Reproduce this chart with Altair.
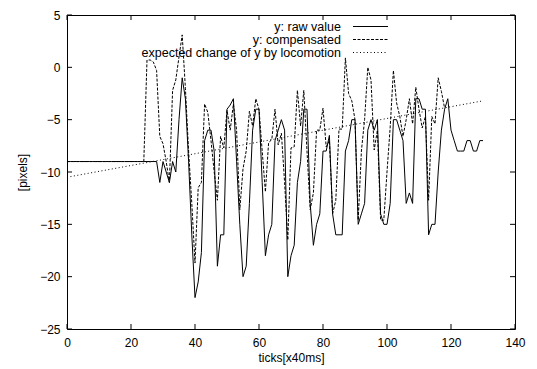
import altair as alt
import pandas as pd

# ---- data ----
ticks_raw = list(range(0, 131))
raw_value = [
    -9, -9, -9, -9, -9, -9, -9, -9, -9, -9,
    -9, -9, -9, -9, -9, -9, -9, -9, -9, -9,
    -9, -9, -9, -9, -9, -9, -9, -9, -9, -11,
    -9, -10, -11, -9, -10, -5, -1, -3, -9, -16,
    -22, -20.5, -17.7, -7, -6, -6, -8, -19, -16, -16,
    -4, -3.6, -3, -9, -15, -20, -19, -13, -6, -4,
    -4, -11, -18, -16, -15, -7, -6, -5, -6, -20,
    -18, -17, -11, -9, -4, -4, -13, -17, -15, -14,
    -8, -8, -6.5, -14, -16, -16, -16, -8, -7, -5,
    -5, -15, -14, -13, -6, -5, -6, -5, -14, -15,
    -15, -13, -5, -5, -6, -7, -13, -12, -13, -3,
    -3, -4, -4, -16, -15, -15, -10, -6, -4, -3,
    -6, -7, -8, -8, -8, -7, -7, -8, -8, -7,
    -7,
]

ticks_comp = list(range(0, 119))
compensated = [
    -9, -9, -9, -9, -9, -9, -9, -9, -9, -9,
    -9, -9, -9, -9, -9, -9, -9, -9, -9, -9,
    -9, -9, -9, -9, -9, 0.7, 0.7, 0.5, -0.3, -6.6,
    -7.3, -9, -11, -2.2, -1.2, 1, 3.1, -2, -8, -13,
    -18.7, -11.5, -11, -3.5, -4.3, -7, -10, -12.7, -6.6, -7.7,
    -4.1, -6, -3.5, -6, -13.6, -9.7, -8, -4.2, -5.6, -3,
    -4, -8, -11.9, -7.2, -6.9, -4, -7.4, -6.3, -11, -16.5,
    -7.7, -7.6, -2.2, -5.6, -2.2, -8, -13.6, -12, -6, -6,
    -3.9, -7.6, -7, -14, -12.7, -5.9, -5.9, 0.9, -2.5, -3.2,
    -5, -14.6, -8, -5, 0, -1.2, -7.9, -6, -14.6, -14.6,
    -10, -5.7, -0.3, -3.4, -4.7, -6.6, -5, -3, -5.4, -1.9,
    -4, -5.8, -4.7, -12.7, -4.7, -5.4, -1, -2.3, -3.9,
]

ticks_expected = [0, 130]
expected = [-10.5, -3.2]

x_tick_values = [0, 20, 40, 60, 80, 100, 120, 140]
y_tick_values = [5, 0, -5, -10, -15, -20, -25]
legend_labels = ["y: raw value", "y: compensated", "expected change of y by locomotion"]

# ---- layout ----
W, H = 448, 314
FONT = "Liberation Sans"

raw_df = pd.DataFrame({"t": ticks_raw, "v": raw_value})
comp_df = pd.DataFrame({"t": ticks_comp, "v": compensated})
exp_df = pd.DataFrame({"t": ticks_expected, "v": expected})
xt_df = pd.DataFrame({"t": x_tick_values})
yt_df = pd.DataFrame({"v": y_tick_values})

xscale = alt.Scale(domain=[0, 140], nice=False, zero=False)
yscale = alt.Scale(domain=[-25, 5], nice=False, zero=False)

xaxis = alt.Axis(values=x_tick_values, ticks=False, domain=False, grid=False,
                 labelFlush=False, labelOverlap=False,
                 labelPadding=8, titlePadding=4, labelFontSize=12, titleFontSize=12,
                 titleFontWeight="normal", labelFont=FONT, titleFont=FONT,
                 labelColor="black", titleColor="black")
yaxis = alt.Axis(values=y_tick_values, ticks=False, domain=False, grid=False,
                 labelFlush=False, labelOverlap=False,
                 labelPadding=7, titlePadding=10, labelFontSize=12, titleFontSize=12,
                 titleFontWeight="normal", labelFont=FONT, titleFont=FONT,
                 labelColor="black", titleColor="black")

X = alt.X("t:Q", scale=xscale, axis=xaxis, title="ticks[x40ms]")
Y = alt.Y("v:Q", scale=yscale, axis=yaxis, title="[pixels]")

raw_line = alt.Chart(raw_df).mark_line(color="black", strokeWidth=1).encode(x=X, y=Y)
comp_line = alt.Chart(comp_df).mark_line(color="black", strokeWidth=1, strokeDash=[3, 1.5]).encode(x=X, y=Y)
exp_line = alt.Chart(exp_df).mark_line(color="black", strokeWidth=1, strokeDash=[1, 2.5]).encode(x=X, y=Y)

tick_len = 5
xt_bottom = alt.Chart(xt_df).mark_rule(color="black", strokeWidth=1).encode(
    x=X, y=alt.value(H), y2=alt.value(H - tick_len))
xt_top = alt.Chart(xt_df).mark_rule(color="black", strokeWidth=1).encode(
    x=X, y=alt.value(0), y2=alt.value(tick_len))
yt_left = alt.Chart(yt_df).mark_rule(color="black", strokeWidth=1).encode(
    y=Y, x=alt.value(0), x2=alt.value(tick_len))
yt_right = alt.Chart(yt_df).mark_rule(color="black", strokeWidth=1).encode(
    y=Y, x=alt.value(W), x2=alt.value(W - tick_len))

legend_layers = []
dashes = [None, [3, 1.5], [1, 2.5]]
rows_y = [11.5, 24.5, 37.5]
for lab, dash, ry in zip(legend_labels, dashes, rows_y):
    d = pd.DataFrame({"label": [lab]})
    txt = alt.Chart(d).mark_text(align="right", baseline="middle", font=FONT,
                                 fontSize=12.5, color="black").encode(
        x=alt.value(274), y=alt.value(ry), text="label:N")
    rule_kwargs = dict(color="black", strokeWidth=1)
    if dash is not None:
        rule_kwargs["strokeDash"] = dash
    smp = alt.Chart(d).mark_rule(**rule_kwargs).encode(
        x=alt.value(286), x2=alt.value(321), y=alt.value(ry))
    legend_layers += [txt, smp]

chart = alt.layer(
    raw_line, comp_line, exp_line,
    xt_bottom, xt_top, yt_left, yt_right,
    *legend_layers,
).properties(
    width=W, height=H,
    padding={"left": 67, "top": 15, "right": 22, "bottom": 40},
    autosize=alt.AutoSizeParams(type="none"),
    background="white",
).configure_view(stroke="black", strokeWidth=1)

chart.save("out.html", embed_options={"renderer": "svg", "actions": False})
